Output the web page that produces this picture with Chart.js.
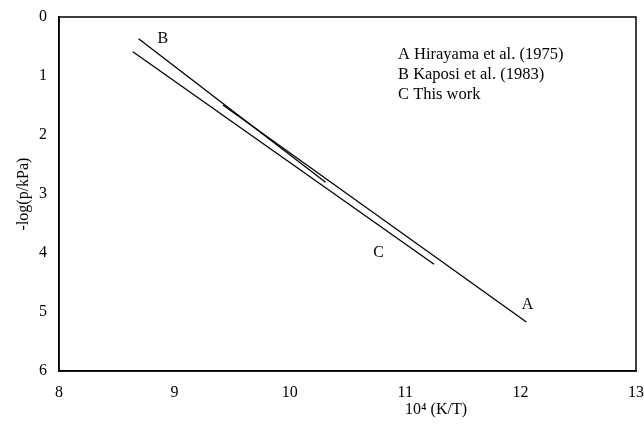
<!DOCTYPE html>
<html><head><meta charset="utf-8">
<script src="https://cdn.jsdelivr.net/npm/chart.js@4"></script>
<style>html,body{margin:0;padding:0;background:#fff}#wrap{width:644px;height:434px}</style>
</head><body><div id="wrap"><canvas id="c" width="644" height="434"></canvas></div>
<script>
// Data: x = 10^4 (K/T), y = -log(p/kPa)
const seriesNames = ["A Hirayama et al. (1975)", "B Kaposi et al. (1983)", "C This work"];
const lineA_x = [9.42, 12.05];
const lineA_y = [1.49, 5.17];
const lineB_x = [8.69, 10.31];
const lineB_y = [0.37, 2.80];
const lineC_x = [8.64, 11.25];
const lineC_y = [0.59, 4.19];
const curveLabels = ["A", "B", "C"];
const labelX = [12.06, 8.90, 10.77];
const labelY = [4.88, 0.37, 4.00];
const xTicks = [8, 9, 10, 11, 12, 13];
const yTicks = [0, 1, 2, 3, 4, 5, 6];

const pts = (xs, ys) => xs.map((x, i) => ({x: x, y: ys[i]}));
const FONT = "'Liberation Serif', 'Times New Roman', serif";

const textPlugin = {
  id: 'texts',
  afterDatasetsDraw(chart) {
    const {ctx, scales: {x, y}} = chart;
    ctx.save();
    ctx.fillStyle = '#000';
    ctx.font = '16px ' + FONT;
    ctx.textAlign = 'center';
    ctx.textBaseline = 'middle';
    curveLabels.forEach((l, i) => ctx.fillText(l, x.getPixelForValue(labelX[i]), y.getPixelForValue(labelY[i])));
    ctx.font = '16.5px ' + FONT;
    ctx.textAlign = 'left';
    seriesNames.forEach((s, i) => ctx.fillText(s, 398, 55 + i * 20));
    ctx.font = '16px ' + FONT;
    ctx.textAlign = 'center';
    ctx.fillText('10\u2074 (K/T)', 436, 410);
    // frame
    ctx.strokeStyle = '#000';
    ctx.lineWidth = 1.5;
    const a = chart.chartArea;
    ctx.strokeRect(a.left, a.top, a.right - a.left, a.bottom - a.top);
    ctx.restore();
  }
};

const ds = (d) => ({data: d, showLine: true, borderColor: '#000', borderWidth: 1.3, pointRadius: 0, fill: false});

new Chart(document.getElementById('c'), {
  type: 'scatter',
  data: {datasets: [ds(pts(lineA_x, lineA_y)), ds(pts(lineB_x, lineB_y)), ds(pts(lineC_x, lineC_y))]},
  options: {
    responsive: false,
    animation: false,
    layout: {padding: {top: 17, right: 8, left: 0, bottom: 0}},
    plugins: {legend: {display: false}, tooltip: {enabled: false}},
    scales: {
      x: {
        type: 'linear', min: 8, max: 13,
        afterBuildTicks: (s) => { s.ticks = xTicks.map(v => ({value: v})); },
        afterFit: (s) => { s.height = 63; s.paddingLeft = 0; s.paddingRight = 0; },
        grid: {display: false, drawTicks: true, tickLength: 5, color: '#000'},
        border: {display: true, color: '#000', width: 1.5},
        ticks: {color: '#000', font: {family: FONT, size: 16}, padding: 7, maxRotation: 0}
      },
      y: {
        type: 'linear', min: 0, max: 6, reverse: true,
        afterBuildTicks: (s) => { s.ticks = yTicks.map(v => ({value: v})); },
        afterFit: (s) => { s.width = 59; s.paddingTop = 0; s.paddingBottom = 0; },
        grid: {display: false, drawTicks: true, tickLength: 5, color: '#000'},
        border: {display: true, color: '#000', width: 1.5},
        ticks: {color: '#000', font: {family: FONT, size: 16}, padding: 7},
        title: {display: true, text: '-log(p/kPa)', color: '#000', font: {family: FONT, size: 16}, padding: {top: 14, bottom: 0}}
      }
    }
  },
  plugins: [textPlugin]
});
</script></body></html>
